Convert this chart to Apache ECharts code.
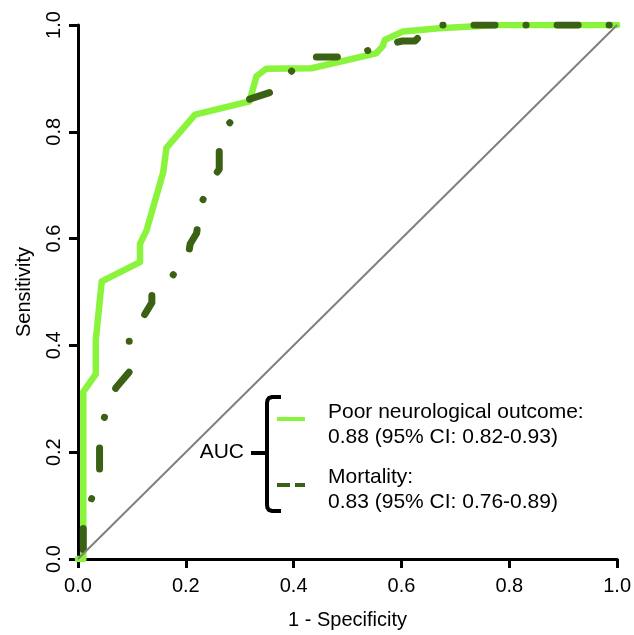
<!DOCTYPE html>
<html>
<head>
<meta charset="utf-8">
<script src="https://cdn.jsdelivr.net/npm/echarts@6/dist/echarts.min.js"></script>
<style>html,body{margin:0;padding:0;background:#fff}#c{width:634px;height:635px}</style>
</head>
<body>
<div id="c"></div>
<script>
// Poor neurological outcome ROC (1 - specificity, sensitivity)
const fprPoor = [0, 0.0098, 0.0098, 0.033, 0.033, 0.044, 0.115, 0.115, 0.127, 0.158, 0.164, 0.217, 0.318, 0.331, 0.349, 0.433, 0.553, 0.565, 0.569, 0.603, 0.670, 0.78, 1.0];
const tprPoor = [0, 0, 0.313, 0.346, 0.410, 0.520, 0.556, 0.590, 0.615, 0.724, 0.770, 0.832, 0.857, 0.904, 0.918, 0.919, 0.947, 0.960, 0.972, 0.988, 0.994, 1.0, 1.0];
// Mortality ROC
const fprMort = [0, 0.0098, 0.0098, 0.025, 0.04, 0.04, 0.047, 0.07, 0.095, 0.095, 0.125, 0.137, 0.137, 0.175, 0.205, 0.208, 0.22, 0.228, 0.255, 0.262, 0.262, 0.28, 0.315, 0.36, 0.393, 0.42, 0.48, 0.53, 0.58, 0.602, 0.625, 0.655, 1.0];
const tprMort = [0, 0, 0.06, 0.112, 0.16, 0.21, 0.26, 0.32, 0.35, 0.41, 0.46, 0.48, 0.50, 0.53, 0.57, 0.59, 0.61, 0.665, 0.72, 0.73, 0.77, 0.815, 0.86, 0.875, 0.91, 0.94, 0.94, 0.95, 0.965, 0.97, 0.97, 1.0, 1.0];
const refLine = [[0, 0], [1, 1]];
const tickLabels = ['0.0', '0.2', '0.4', '0.6', '0.8', '1.0'];
const legendTitle = 'AUC';
const legendTexts = ['Poor neurological outcome:', '0.88 (95% CI: 0.82-0.93)', 'Mortality:', '0.83 (95% CI: 0.76-0.89)'];

const GREEN = '#8af43c';
const DARK = '#3b6114';
const FONT = 'Liberation Sans, Arial, Helvetica, sans-serif';

const pairs = (xs, ys) => xs.map((x, i) => [x, ys[i]]);
const fmt = v => tickLabels[Math.round(v / 0.2)];

const chart = echarts.init(document.getElementById('c'), null, {renderer: 'canvas'});
const axisCommon = {
  type: 'value', min: 0, max: 1, interval: 0.2,
  nameLocation: 'middle',
  nameTextStyle: {fontFamily: FONT, fontSize: 20, color: '#000'},
  axisLine: {show: true, lineStyle: {color: '#000', width: 3}},
  axisTick: {show: true, inside: false, length: 9, lineStyle: {color: '#000', width: 3}},
  splitLine: {show: false},
};
const textEl = (x, y, t, align) => ({type: 'text', x: x, y: y,
  style: {text: t, textAlign: align || 'left', textVerticalAlign: 'middle', font: '21px ' + FONT, fill: '#000'}});
chart.setOption({
  animation: false,
  backgroundColor: '#fff',
  grid: {left: 78, right: 16, top: 25, bottom: 73, containLabel: false},
  xAxis: Object.assign({}, axisCommon, {
    name: '1 - Specificity', nameGap: 51,
    axisLabel: {formatter: fmt, fontFamily: FONT, fontSize: 20, color: '#000', margin: 17}
  }),
  yAxis: Object.assign({}, axisCommon, {
    name: 'Sensitivity', nameGap: 44,
    axisLabel: {formatter: fmt, rotate: 90, fontFamily: FONT, fontSize: 20, color: '#000', margin: 14}
  }),
  series: [
    {type: 'line', data: pairs(fprPoor, tprPoor), showSymbol: false, symbol: 'none', z: 2,
     lineStyle: {color: GREEN, width: 6.5, join: 'round', cap: 'round'}},
    {type: 'line', data: pairs(fprMort, tprMort), showSymbol: false, symbol: 'none', z: 3,
     lineStyle: {color: DARK, width: 7, type: [21, 31, 0.1, 31], dashOffset: 68.4, cap: 'round', join: 'round'}},
    {type: 'line', data: refLine, showSymbol: false, symbol: 'none', z: 4,
     lineStyle: {color: '#808080', width: 2}}
  ],
  graphic: [
    {type: 'polyline', shape: {points: [[281, 397], [272, 397], [269, 398], [267.5, 400], [267, 403], [267, 505], [267.5, 508], [269, 510], [272, 511], [281, 511]]},
     style: {fill: null, stroke: '#000', lineWidth: 4}},
    {type: 'line', shape: {x1: 251, y1: 453, x2: 267, y2: 453}, style: {stroke: '#000', lineWidth: 4}},
    textEl(244, 452, legendTitle, 'right'),
    {type: 'line', shape: {x1: 277, y1: 419, x2: 305, y2: 419}, style: {stroke: GREEN, lineWidth: 4}},
    {type: 'line', shape: {x1: 277, y1: 485, x2: 305, y2: 485}, style: {stroke: DARK, lineWidth: 4, lineDash: [13, 5]}},
    textEl(328, 412, legendTexts[0]),
    textEl(328, 437, legendTexts[1]),
    textEl(328, 477, legendTexts[2]),
    textEl(328, 502, legendTexts[3])
  ]
});
</script>
</body>
</html>
